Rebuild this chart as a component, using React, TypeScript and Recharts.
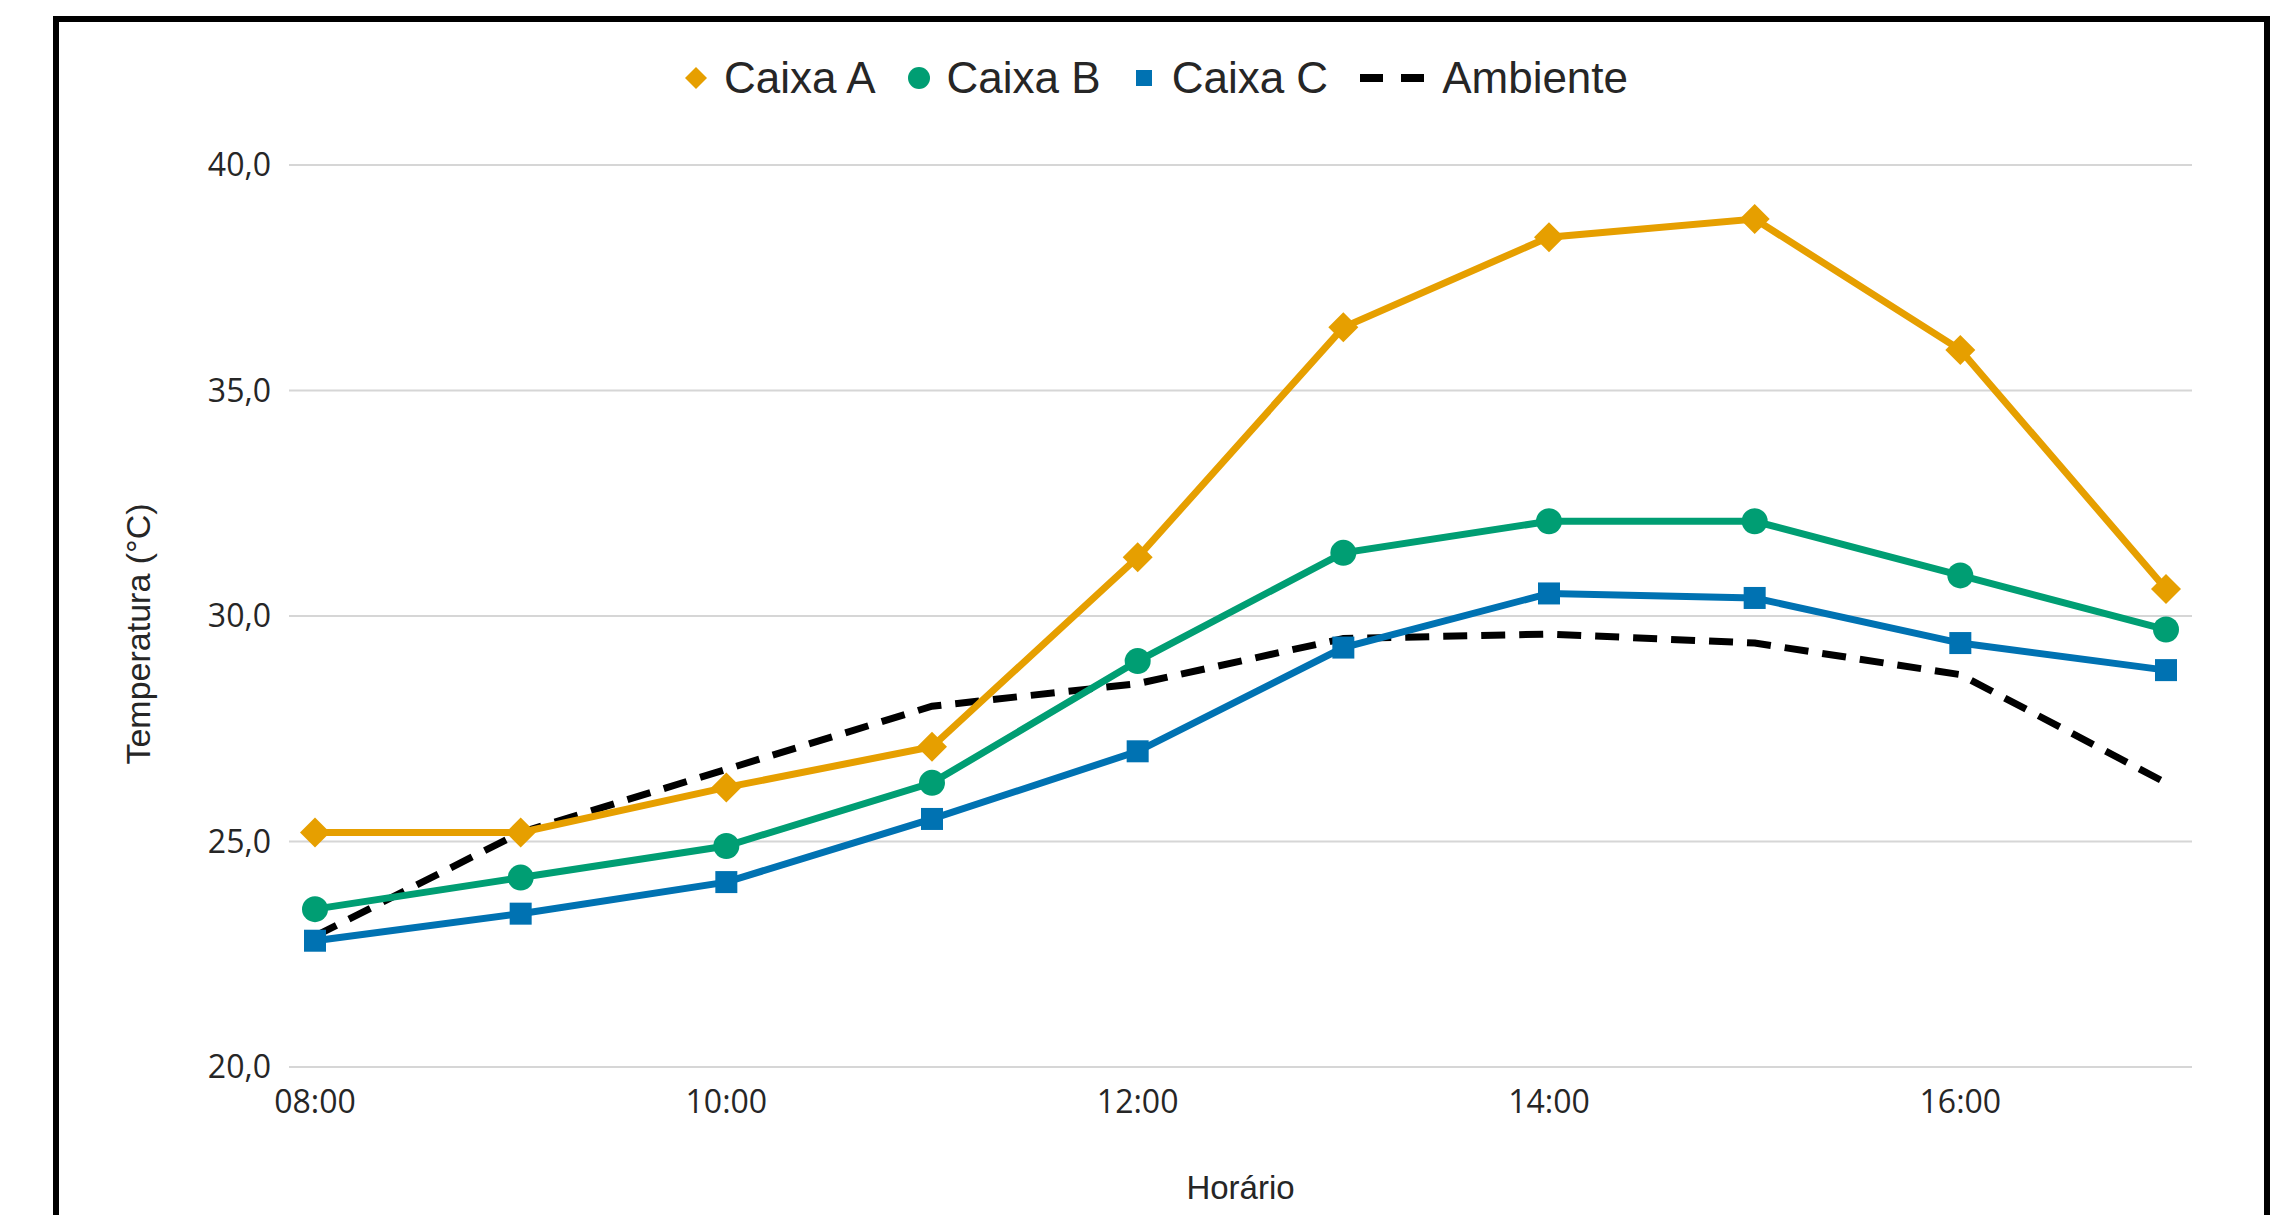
import { LineChart, Line, XAxis, YAxis, CartesianGrid, Legend } from 'recharts';

const hours = ['08:00', '09:00', '10:00', '11:00', '12:00', '13:00', '14:00', '15:00', '16:00', '17:00'];
const caixaA = [25.2, 25.2, 26.2, 27.1, 31.3, 36.4, 38.4, 38.8, 35.9, 30.6];
const caixaB = [23.5, 24.2, 24.9, 26.3, 29.0, 31.4, 32.1, 32.1, 30.9, 29.7];
const caixaC = [22.8, 23.4, 24.1, 25.5, 27.0, 29.3, 30.5, 30.4, 29.4, 28.8];
const ambiente = [22.9, 25.2, 26.6, 28.0, 28.5, 29.5, 29.6, 29.4, 28.7, 26.3];
const yTicks = [20, 25, 30, 35, 40];

const rows = hours.map((hora, i) => ({
  hora,
  caixaA: caixaA[i],
  caixaB: caixaB[i],
  caixaC: caixaC[i],
  ambiente: ambiente[i],
}));

const ORANGE = '#E69F00';
const GREEN = '#009E73';
const BLUE = '#0072B2';
const TEXT = '#262626';
const SANS = '"Liberation Sans", Arial, sans-serif';

const W = 2273;
const H = 1215;

const Diamond = (props: any) => {
  const { cx, cy } = props;
  if (cx == null || cy == null) return null;
  const s = 15;
  return <path key={`d-${cx}`} d={`M${cx},${cy - s}L${cx + s},${cy}L${cx},${cy + s}L${cx - s},${cy}Z`} fill={ORANGE} />;
};

const Dot = (props: any) => {
  const { cx, cy } = props;
  if (cx == null || cy == null) return null;
  return <circle key={`c-${cx}`} cx={cx} cy={cy} r={13} fill={GREEN} />;
};

const Square = (props: any) => {
  const { cx, cy } = props;
  if (cx == null || cy == null) return null;
  return <rect key={`s-${cx}`} x={cx - 11} y={cy - 11} width={22} height={22} fill={BLUE} />;
};

const legendItems = [
  { name: 'Caixa A', icon: 'diamond' },
  { name: 'Caixa B', icon: 'circle' },
  { name: 'Caixa C', icon: 'square' },
  { name: 'Ambiente', icon: 'dash' },
];

function LegendIcon({ type }: { type: string }) {
  if (type === 'dash') {
    return (
      <svg width={65} height={24}>
        <rect x={0} y={8} width={23} height={8} fill="#000" />
        <rect x={41} y={8} width={23} height={8} fill="#000" />
      </svg>
    );
  }
  return (
    <svg width={22} height={24}>
      {type === 'diamond' && <path d="M11,1L22,12L11,23L0,12Z" fill={ORANGE} />}
      {type === 'circle' && <circle cx={11} cy={12} r={11} fill={GREEN} />}
      {type === 'square' && <rect x={3} y={4} width={16} height={16} fill={BLUE} />}
    </svg>
  );
}

function ChartLegend() {
  return (
    <div style={{ display: 'flex', justifyContent: 'center', alignItems: 'center', gap: 32, height: 49 }}>
      {legendItems.map((it) => (
        <div key={it.name} style={{ display: 'flex', alignItems: 'center', gap: 17 }}>
          <LegendIcon type={it.icon} />
          <span style={{ fontFamily: SANS, fontSize: 44, color: TEXT, lineHeight: '49px' }}>{it.name}</span>
        </div>
      ))}
    </div>
  );
}

const fmt = (v: number) => v.toFixed(1).replace('.', ',');

export default function App() {
  return (
    <div style={{ position: 'absolute', left: 0, top: 0, width: W, height: H, overflow: 'hidden', background: '#fff' }}>
      <div
        style={{
          position: 'absolute',
          left: 53,
          top: 16,
          width: 2217,
          height: 1400,
          boxSizing: 'border-box',
          border: '6px solid #000',
          background: '#fff',
        }}
      />
      <div style={{ position: 'absolute', left: 0, top: 0 }}>
        <LineChart width={W} height={H} data={rows} margin={{ top: 165, right: 81, bottom: 88, left: 189 }}>
          <CartesianGrid vertical={false} stroke="#d6d6d6" strokeWidth={2} />
          <XAxis
            dataKey="hora"
            interval={1}
            height={60}
            padding={{ left: 26, right: 26 }}
            axisLine={false}
            tickLine={false}
            tickSize={0}
            tickMargin={23}
            tick={{ fontFamily: '"Open Sans", sans-serif', fontSize: 32, fill: TEXT }}
            label={{
              content: (p: any) => (
                <text
                  x={p.viewBox.x + p.viewBox.width / 2}
                  y={1199}
                  textAnchor="middle"
                  fontFamily={SANS}
                  fontSize={33}
                  fill={TEXT}
                >
                  Horário
                </text>
              ),
            }}
          />
          <YAxis
            domain={[20, 40]}
            ticks={yTicks}
            width={100}
            axisLine={false}
            tickLine={false}
            tickSize={0}
            tickMargin={18}
            tickFormatter={fmt}
            tick={{ fontFamily: '"Open Sans", sans-serif', fontSize: 32, fill: TEXT }}
            label={{
              content: (p: any) => {
                const cy = p.viewBox.y + p.viewBox.height / 2 + 18;
                return (
                  <text
                    x={150}
                    y={cy}
                    transform={`rotate(-90, 150, ${cy})`}
                    textAnchor="middle"
                    fontFamily={SANS}
                    fontSize={34}
                    fill={TEXT}
                  >
                    Temperatura (°C)
                  </text>
                );
              },
            }}
          />
          <Legend
            layout="horizontal"
            verticalAlign="middle"
            align="center"
            content={() => <ChartLegend />}
            wrapperStyle={{ position: 'absolute', top: 53, left: 20, width: W, height: 49 }}
          />
          <Line
            dataKey="ambiente"
            name="Ambiente"
            stroke="#000"
            strokeWidth={7}
            strokeDasharray="24 14"
            dot={false}
            activeDot={false}
            isAnimationActive={false}
          />
          <Line
            dataKey="caixaA"
            name="Caixa A"
            stroke={ORANGE}
            strokeWidth={7}
            dot={Diamond}
            activeDot={false}
            isAnimationActive={false}
          />
          <Line
            dataKey="caixaB"
            name="Caixa B"
            stroke={GREEN}
            strokeWidth={7}
            dot={Dot}
            activeDot={false}
            isAnimationActive={false}
          />
          <Line
            dataKey="caixaC"
            name="Caixa C"
            stroke={BLUE}
            strokeWidth={7}
            dot={Square}
            activeDot={false}
            isAnimationActive={false}
          />
        </LineChart>
      </div>
    </div>
  );
}
